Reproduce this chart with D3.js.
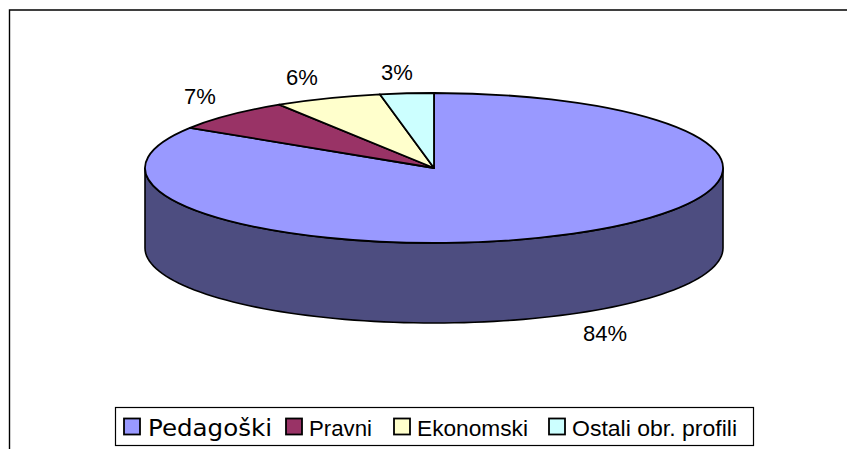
<!DOCTYPE html>
<html>
<head>
<meta charset="utf-8">
<script src="https://cdn.jsdelivr.net/npm/d3@7"></script>
<style>
	html, body { margin: 0; padding: 0; background: #fff; }
	svg { display: block; }
	text { font-family: "Liberation Sans", Arial, sans-serif; fill: #000; }
</style>
</head>
<body>
<div id="chart"></div>
<script>
const categories = ['Pedagoški', 'Pravni', 'Ekonomski', 'Ostali obr. profili'];
const values = [84, 7, 6, 3];
const colorRange = ['#9999ff', '#993366', '#ffffcc', '#ccffff'];

const width = 847,
	height = 449,
	cx = 434,
	cy = 168,
	rx = 289,
	ry = 75,
	depth = 80;

const svg = d3.select('#chart').append('svg')
	.attr('width', width)
	.attr('height', height);

// Frame of the chart: only top and left are visible in the crop.
svg.append('path')
	.attr('d', `M9.5,${height}V10H${width}`)
	.attr('fill', 'none')
	.attr('stroke', '#000')
	.attr('stroke-width', 1.4);

const colors = d3.scaleOrdinal().domain(categories).range(colorRange);

const pie = d3.pie().sort(null).value(d => d.value);
const slices = pie(categories.map((c, i) => ({ name: c, value: values[i] })));

// The top of the pie is a flat circle squashed to an ellipse.
const arc = d3.arc().innerRadius(0).outerRadius(rx);

// Side wall of the cylinder, front half of the ellipse only.
const sideAngles = d3.range(0, 181, 2).map(d => d * Math.PI / 180);
const side = d3.area()
	.x(a => cx + rx * Math.cos(a))
	.y0(a => cy + ry * Math.sin(a))
	.y1(a => cy + depth + ry * Math.sin(a));

svg.append('path')
	.datum(sideAngles)
	.attr('d', side)
	.attr('fill', '#4d4d80')
	.attr('stroke', '#000')
	.attr('stroke-width', 1.6);

const pieTop = svg.append('g')
	.attr('transform', `translate(${cx},${cy}) scale(1,${ry / rx})`);

pieTop.selectAll('path')
	.data(slices)
	.enter()
	.append('path')
	.attr('d', arc)
	.attr('fill', d => colors(d.data.name))
	.attr('stroke', '#000')
	.attr('stroke-width', 1.8)
	.attr('stroke-linejoin', 'round')
	.attr('vector-effect', 'non-scaling-stroke');

// Percent labels sit just outside the slices.
const labelPos = [[605, 341], [200, 104], [302, 85], [397, 80]];
svg.selectAll('.pct')
	.data(slices)
	.enter()
	.append('text')
	.attr('class', 'pct')
	.attr('x', (d, i) => labelPos[i][0])
	.attr('y', (d, i) => labelPos[i][1])
	.attr('text-anchor', 'middle')
	.style('font-size', '22px')
	.text(d => d.data.value + '%');

// Legend
const legend = svg.append('g');
legend.append('rect')
	.attr('x', 115.5).attr('y', 407.5)
	.attr('width', 638).attr('height', 38)
	.attr('fill', '#fff')
	.attr('stroke', '#000')
	.attr('stroke-width', 1.2);

const legendX = [124, 286, 394, 549];
const legendFont = ['DejaVu Sans', 'Liberation Sans', 'Liberation Sans', 'Liberation Sans'];
const legendSize = [23, 22, 22, 22];
const legendTextWidth = [124, 63, 111, 165];
const item = legend.selectAll('.item')
	.data(categories)
	.enter()
	.append('g')
	.attr('class', 'item')
	.attr('transform', (d, i) => `translate(${legendX[i]},418.5)`);

item.append('rect')
	.attr('width', 16).attr('height', 16)
	.attr('fill', d => colors(d))
	.attr('stroke', '#000')
	.attr('stroke-width', 1.8);

// The legend type in the original is stretched, so pin each label's width.
item.append('text')
	.attr('x', (d, i) => i === 0 ? 24 : 23)
	.attr('y', 17.5)
	.attr('textLength', (d, i) => legendTextWidth[i])
	.attr('lengthAdjust', 'spacingAndGlyphs')
	.style('font-family', (d, i) => legendFont[i])
	.style('font-size', (d, i) => legendSize[i] + 'px')
	.text(d => d);
</script>
</body>
</html>
